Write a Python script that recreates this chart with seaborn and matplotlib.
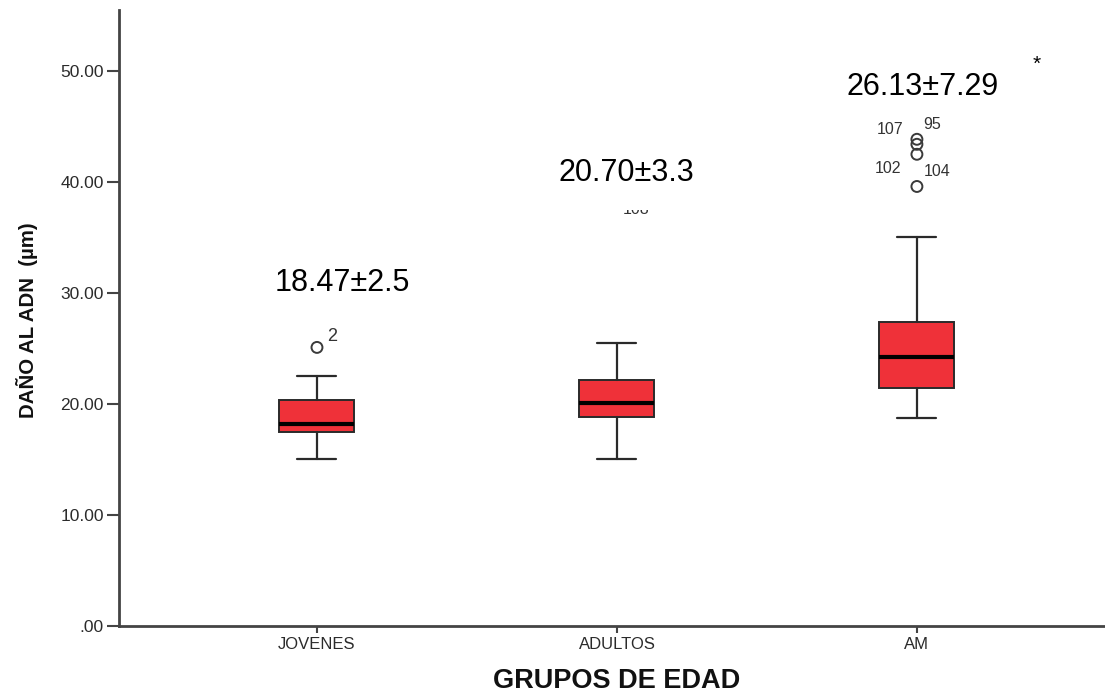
import matplotlib
matplotlib.use("Agg")
import matplotlib.pyplot as plt
import seaborn as sns

# Group names and five-number summaries of DNA damage (µm)
grupos = ["JOVENES", "ADULTOS", "AM"]
bigote_inf = [15.05, 15.05, 18.7]
q1 = [17.5, 18.8, 21.4]
mediana = [18.17, 20.1, 24.26]
q3 = [20.36, 22.2, 27.4]
bigote_sup = [22.55, 25.5, 35.07]

# Outlying cases: group index, value, case id
atip_grupo = [0, 1, 2, 2, 2, 2]
atip_valor = [25.1, 38.9, 43.85, 43.4, 42.5, 39.6]
atip_caso = ["2", "108", "107", "95", "102", "104"]
# label offsets (category units, µm) next to each outlier
atip_dx = [0.05, 0.063, -0.09, 0.05, -0.097, 0.067]
atip_dy = [0.95, -1.35, 0.92, 1.74, -1.24, 1.38]

# Mean ± SD per group
resumen = ["18.47±2.5", "20.70±3.3", "26.13±7.29"]
resumen_y = [30.9, 40.8, 48.55]
resumen_dx = [0.083, 0.03, 0.02]

sns.set_style("white")
plt.rcParams["font.family"] = ["Liberation Sans", "DejaVu Sans"]

fig = plt.figure(figsize=(11.05, 6.92), dpi=100)
ax = fig.add_axes([119 / 1105, 66 / 692, 986 / 1105, 616 / 692])

stats = []
for i, g in enumerate(grupos):
    stats.append(dict(label=g, whislo=bigote_inf[i], q1=q1[i], med=mediana[i],
                      q3=q3[i], whishi=bigote_sup[i], fliers=[]))

rojo = "#EF3139"
ax.bxp(stats, positions=range(len(grupos)), widths=0.25, patch_artist=True,
       showfliers=False,
       boxprops=dict(facecolor=rojo, edgecolor="#2a2a2a", linewidth=1.4),
       medianprops=dict(color="black", linewidth=3),
       whiskerprops=dict(color="#2a2a2a", linewidth=1.6),
       capprops=dict(color="#2a2a2a", linewidth=1.6),
       capwidths=0.13)

# outlier circles
sns.scatterplot(x=atip_grupo, y=atip_valor, ax=ax, marker="o", s=62,
                facecolor="none", edgecolor="#3a3a3a", linewidth=1.4,
                zorder=3, legend=False)
for g, v, c, dx, dy in zip(atip_grupo, atip_valor, atip_caso, atip_dx, atip_dy):
    fs = 13 if c == "2" else 11.5
    ax.text(g + dx, v + dy, c, fontsize=fs, color="#333333",
            ha="center", va="center", zorder=3)

# Mean ± SD annotations on white text boxes; the middle box is taller and
# hides the case marker beneath it
for i, t in enumerate(resumen):
    pad = 0.72 if i == 1 else 0.25
    ax.text(i + resumen_dx[i], resumen_y[i], t, fontsize=22, color="black",
            ha="center", va="center", zorder=5,
            bbox=dict(boxstyle=f"square,pad={pad}", facecolor="white",
                      edgecolor="none"))
ax.text(2.4, 50.6, "*", fontsize=15, color="black", ha="center", va="center",
        zorder=6)

ax.set_xlim(-0.66, 2.627)
ax.set_ylim(0, 55.5)
ax.set_xticks(range(len(grupos)))
ax.set_xticklabels(grupos)
yt = [0, 10, 20, 30, 40, 50]
ax.set_yticks(yt)
ax.set_yticklabels([".00" if v == 0 else f"{v:.2f}" for v in yt])

for s in ["top", "right"]:
    ax.spines[s].set_visible(False)
for s in ["left", "bottom"]:
    ax.spines[s].set_color("#444444")
    ax.spines[s].set_linewidth(2)

ax.tick_params(axis="both", which="major", width=1.5,
               color="#444444", labelcolor="#2b2b2b",
               direction="out", left=True, bottom=True)
ax.tick_params(axis="x", length=5, pad=3, labelsize=12)
ax.tick_params(axis="y", length=9, pad=2, labelsize=12.5)

ax.set_xlabel("GRUPOS DE EDAD", fontsize=19.5, fontweight="bold", color="#111111")
ax.xaxis.set_label_coords(0.505, -0.068)
ax.set_ylabel("DAÑO AL ADN  (µm)", fontsize=14.7, fontweight="bold", color="#111111")
ax.yaxis.set_label_coords(-0.082, 0.497)

fig.savefig("out.png", dpi=100)
